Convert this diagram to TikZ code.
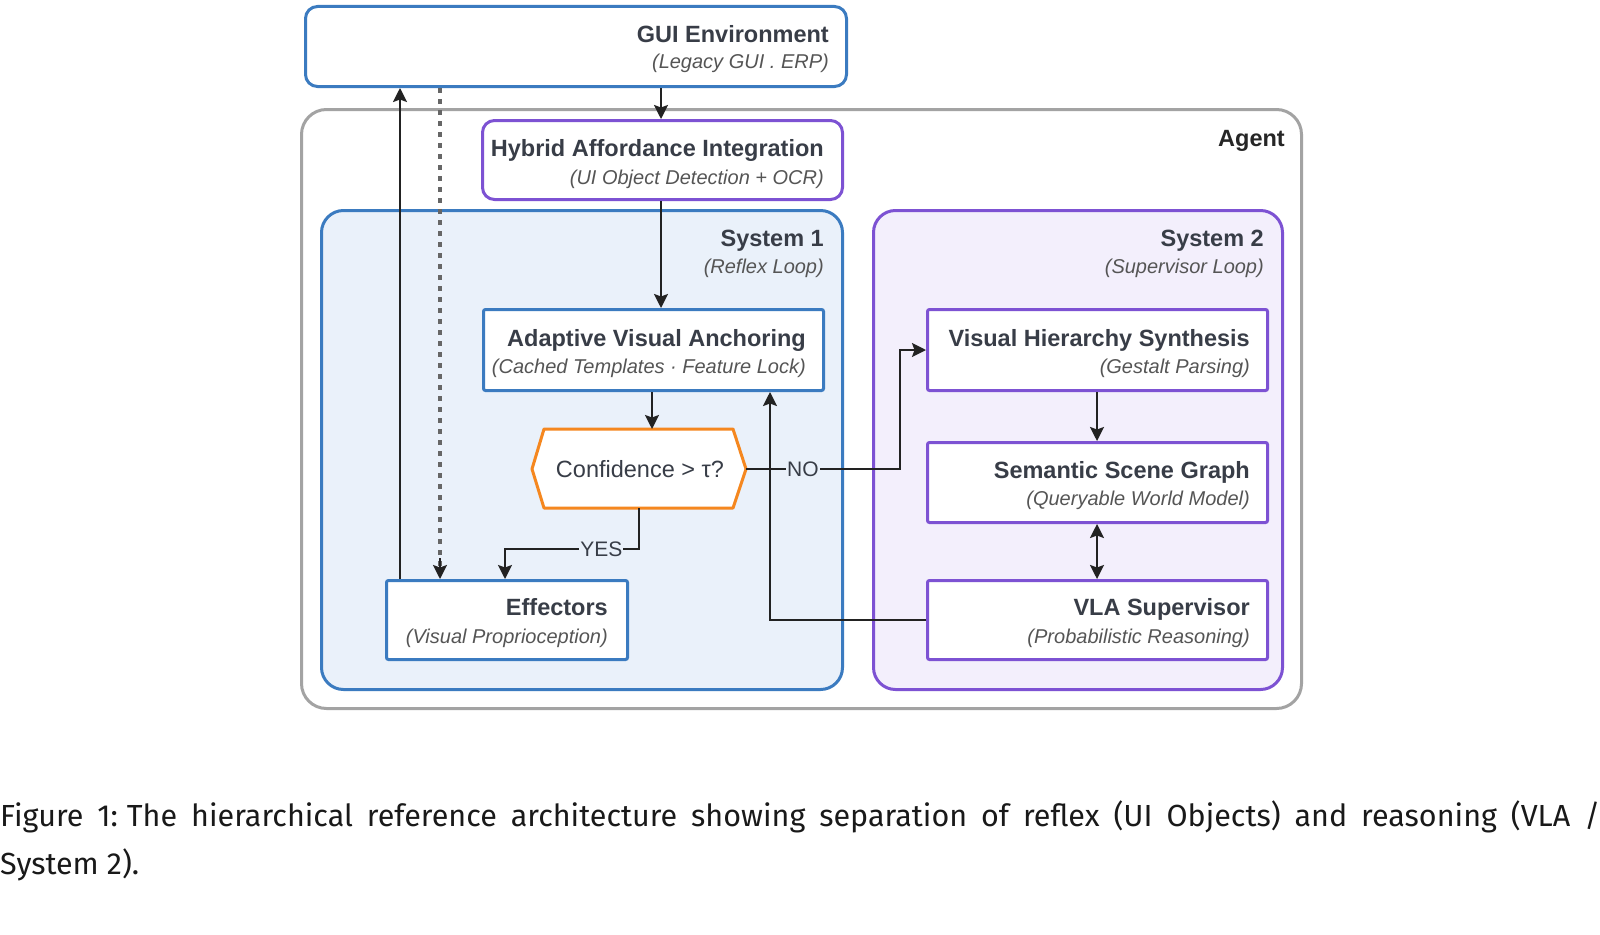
\documentclass[tikz,border=0pt]{standalone}
\usepackage{fontspec}
\setmainfont{Liberation Sans}
\newfontfamily\capfont{Fira Sans}
\usetikzlibrary{arrows.meta}
\definecolor{bblue}{HTML}{3B7BC0}
\definecolor{bfill}{HTML}{EAF1FA}
\definecolor{ppur}{HTML}{7D52D3}
\definecolor{pfill}{HTML}{F3EFFC}
\definecolor{orng}{HTML}{F5871F}
\definecolor{agray}{HTML}{A3A3A3}
\definecolor{ttl}{HTML}{383D47}
\definecolor{subc}{HTML}{555555}
\definecolor{lnk}{HTML}{222222}
\tikzset{
  box/.style={draw, line width=3pt, anchor=north west, inner sep=0pt},
  ttext/.style={anchor=base east, inner sep=0pt, text=ttl, font=\fontsize{23.5}{28}\selectfont\bfseries},
  stext/.style={anchor=base east, inner sep=0pt, text=subc, font=\fontsize{20}{24}\selectfont\itshape},
  tip/.tip={Stealth[length=14pt,width=14pt,inset=2.5pt]},
  link/.style={draw=lnk, line width=2.2pt, -tip},
  lbl/.style={font=\fontsize{21}{24}\selectfont, text=ttl, fill=bfill, inner sep=1pt},
}
\begin{document}
\begin{tikzpicture}[x=1pt,y=-1pt]
\useasboundingbox[fill=white] (0,0) rectangle (1600,934);

% containers
\node[box, draw=agray, fill=white, rounded corners=25pt, minimum width=1000pt, minimum height=599pt] (agent) at (300,108) {};
\node[anchor=base east, inner sep=0pt, text=black!85, font=\fontsize{23.5}{28}\selectfont\bfseries] (agentT) at (1285,146.5) {Agent};

\node[box, draw=bblue, fill=bfill, rounded corners=22pt, minimum width=521pt, minimum height=479pt] (sys1) at (320,209) {};
\node[ttext] (sys1T) at (824,246) {System 1};
\node[stext] (sys1S) at (824,273) {(Reflex Loop)};

\node[box, draw=ppur, fill=pfill, rounded corners=22pt, minimum width=409pt, minimum height=479pt] (sys2) at (872,209) {};
\node[ttext] (sys2T) at (1264,246) {System 2};
\node[stext] (sys2S) at (1264,273) {(Supervisor Loop)};

% GUI environment
\node[box, draw=bblue, fill=white, rounded corners=12pt, minimum width=541pt, minimum height=80pt] (gui) at (304,5) {};
\node[ttext] (guiT) at (829,42.5) {GUI Environment};
\node[stext] (guiS) at (829,69) {(Legacy GUI . ERP)};

% Hybrid
\node[box, draw=ppur, fill=white, rounded corners=12pt, minimum width=360pt, minimum height=79pt] (hyb) at (481,119) {};
\node[ttext] (hybT) at (824,156) {Hybrid Affordance Integration};
\node[stext] (hybS) at (824,184) {(UI Object Detection + OCR)};

% AVA
\node[box, draw=bblue, fill=white, rounded corners=2pt, minimum width=340pt, minimum height=81pt] (ava) at (482,308) {};
\node[ttext] (avaT) at (806,346) {Adaptive Visual Anchoring};
\node[stext] (avaS) at (806,373) {(Cached Templates · Feature Lock)};

% Effectors
\node[box, draw=bblue, fill=white, rounded corners=2pt, minimum width=241pt, minimum height=79pt] (eff) at (385,579) {};
\node[ttext] (effT) at (608,615) {Effectors};
\node[stext] (effS) at (608,643) {(Visual Proprioception)};

% System 2 boxes
\node[box, draw=ppur, fill=white, rounded corners=2pt, minimum width=340pt, minimum height=81pt] (vhs) at (926,308) {};
\node[ttext] (vhsT) at (1250,346) {Visual Hierarchy Synthesis};
\node[stext] (vhsS) at (1250,373) {(Gestalt Parsing)};

\node[box, draw=ppur, fill=white, rounded corners=2pt, minimum width=340pt, minimum height=80pt] (ssg) at (926,441) {};
\node[ttext] (ssgT) at (1250,478) {Semantic Scene Graph};
\node[stext] (ssgS) at (1250,505) {(Queryable World Model)};

\node[box, draw=ppur, fill=white, rounded corners=2pt, minimum width=340pt, minimum height=79pt] (vla) at (926,579) {};
\node[ttext] (vlaT) at (1250,615) {VLA Supervisor};
\node[stext] (vlaS) at (1250,643) {(Probabilistic Reasoning)};

% decision hexagon
\draw[orng, line width=3pt, fill=white, line join=round] (532,469) -- (544,429) -- (733,429) -- (746,469) -- (733,508) -- (544,508) -- cycle;
\node[inner sep=0pt, text=ttl, font=\fontsize{23.5}{28}\selectfont] (conf) at (640,469) {Confidence > τ?};
\coordinate (confN) at (640,429);
\coordinate (confE) at (746,469);
\coordinate (confS) at (639,508);

% helper columns/rows
\coordinate (cA) at (661,0);
\coordinate (cB) at (652,0);
\coordinate (cC) at (400,0);
\coordinate (cD) at (440,0);
\coordinate (cE) at (505,0);
\coordinate (cG) at (770,0);
\coordinate (cH) at (900,0);
\coordinate (cI) at (1097,0);
\coordinate (yesY) at (0,549);

% connectors
\draw[link] (cA |- gui.south) -- (cA |- hyb.north);
\draw[link] (cA |- hyb.south) -- (cA |- ava.north);
\draw[link] (cB |- ava.south) -- (cB |- confN);
\draw[link] (cC |- eff.north) -- (cC |- gui.south);
\draw[draw=black!60, line width=3.5pt, dash pattern=on 5pt off 6pt] (cD |- gui.south) -- ([yshift=12pt]cD |- eff.north);
\draw[link, shorten <=470pt] (cD |- gui.south) -- (cD |- eff.north);
\draw[link] (vla.west) -- (cG |- vla.west) -- (cG |- ava.south);
\draw[link] (confE) -- node[lbl, pos=0.37] (no) {NO} (cH |- confE) -- (cH |- vhs.west) -- (vhs.west);
\draw[link] (confS) -- (confS |- yesY) -- node[lbl, pos=0.28] (yes) {YES} (cE |- yesY) -- (cE |- eff.north);
\draw[link] (cI |- vhs.south) -- (cI |- ssg.north);
\draw[link, tip-tip] (cI |- ssg.south) -- (cI |- vla.north);

% caption
\node[anchor=base west, inner sep=0pt, text=black!90] (cap1) at (0,826) {\capfont\fontsize{30.5}{36}\selectfont\makebox[1600pt][s]{Figure 1:\hspace{9pt}The hierarchical reference architecture showing separation of reflex (UI Objects) and reasoning (VLA /}};
\node[anchor=base west, inner sep=0pt, text=black!90] (cap2) at (0,874) {\capfont\fontsize{30.5}{36}\selectfont System 2).};
\end{tikzpicture}
\end{document}
